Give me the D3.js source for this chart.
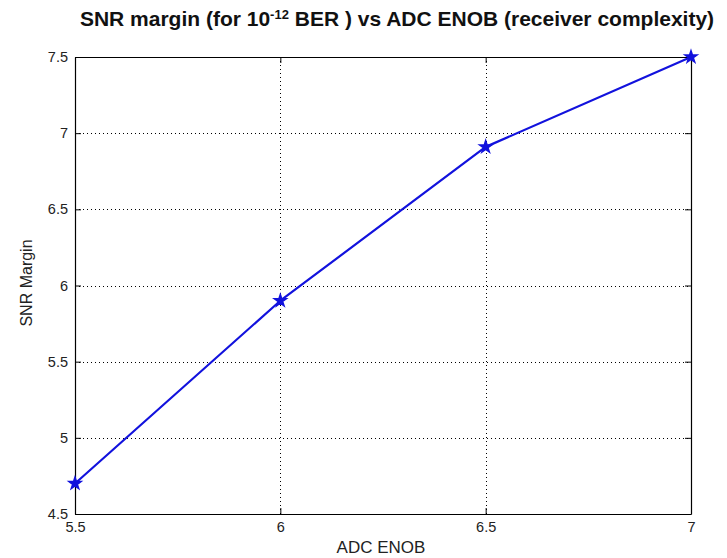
<!DOCTYPE html>
<html>
<head>
<meta charset="utf-8">
<script src="https://cdn.jsdelivr.net/npm/d3@7"></script>
<style>
  html, body { margin: 0; padding: 0; background: #fff; }
  svg { display: block; font-family: "Liberation Sans", Arial, sans-serif; }
</style>
</head>
<body>
<svg id="chart" width="727" height="558"></svg>
<script>
// ADC effective number of bits vs SNR margin at 1e-12 BER
const enob = [5.5, 6, 6.5, 7];
const snrMargin = [4.7, 5.9, 6.91, 7.5];
const xTicks = [5.5, 6, 6.5, 7];
const yTicks = [4.5, 5, 5.5, 6, 6.5, 7, 7.5];
const xTickLabels = ["5.5", "6", "6.5", "7"];
const yTickLabels = ["4.5", "5", "5.5", "6", "6.5", "7", "7.5"];

const svg = d3.select("#chart");
const margin = { left: 75, right: 36, top: 57, bottom: 44 };
const W = 727, H = 558;
const x0 = margin.left, x1 = W - margin.right;
const y0 = H - margin.bottom, y1 = margin.top;

const x = d3.scaleLinear().domain([5.5, 7]).range([x0, x1]);
const y = d3.scaleLinear().domain([4.5, 7.5]).range([y0, y1]);

// dotted grid
const grid = svg.append("g").attr("stroke", "#000").attr("stroke-width", 1)
  .attr("stroke-dasharray", "1,3");
grid.selectAll(".gx").data(xTicks.slice(1, -1)).join("line")
  .attr("x1", d => Math.round(x(d)) + 0.5).attr("x2", d => Math.round(x(d)) + 0.5)
  .attr("y1", y1).attr("y2", y0);
grid.selectAll(".gy").data(yTicks.slice(1, -1)).join("line")
  .attr("y1", d => Math.round(y(d)) + 0.5).attr("y2", d => Math.round(y(d)) + 0.5)
  .attr("x1", x0).attr("x2", x1);

// axes with inward ticks on all sides
const tickLen = 6;
const axB = d3.axisBottom(x).tickValues(xTicks).tickSizeInner(-tickLen).tickSizeOuter(0)
  .tickPadding(8).tickFormat((d, i) => xTickLabels[i]);
const axT = d3.axisTop(x).tickValues(xTicks).tickSizeInner(-tickLen).tickSizeOuter(0).tickFormat("");
const axL = d3.axisLeft(y).tickValues(yTicks).tickSizeInner(-tickLen).tickSizeOuter(0)
  .tickPadding(7).tickFormat((d, i) => yTickLabels[i]);
const axR = d3.axisRight(y).tickValues(yTicks).tickSizeInner(-tickLen).tickSizeOuter(0).tickFormat("");

function style(g) {
  g.selectAll("path").attr("stroke", "#000").attr("stroke-width", 1.2);
  g.selectAll("line").attr("stroke", "#000");
  g.selectAll("text").attr("fill", "#222").style("font-size", "14.5px")
    .style("font-family", "'Liberation Sans', Arial, sans-serif");
}
svg.append("g").attr("transform", `translate(0,${y0})`).call(axB).call(style);
svg.append("g").attr("transform", `translate(0,${y1})`).call(axT).call(style);
svg.append("g").attr("transform", `translate(${x0},0)`).call(axL).call(style);
svg.append("g").attr("transform", `translate(${x1},0)`).call(axR).call(style);

// data line
const pts = enob.map((e, i) => [e, snrMargin[i]]);
svg.append("path").datum(pts)
  .attr("fill", "none").attr("stroke", "#1212dd").attr("stroke-width", 2.2)
  .attr("stroke-linejoin", "round")
  .attr("d", d3.line().x(d => x(d[0])).y(d => y(d[1])));

// star markers
svg.append("g").selectAll("path").data(pts).join("path")
  .attr("transform", d => `translate(${x(d[0])},${y(d[1])})`)
  .attr("d", d3.symbol().type(d3.symbolStar).size(45))
  .attr("fill", "#1212dd").attr("stroke", "#1212dd").attr("stroke-width", 1.5);

// title
const title = svg.append("text").attr("x", 397).attr("y", 26)
  .attr("text-anchor", "middle").style("font-size", "21px").style("font-weight", "bold")
  .attr("fill", "#111");
title.append("tspan").text("SNR margin (for 10");
title.append("tspan").text("-12").attr("dy", -7).style("font-size", "13px");
title.append("tspan").text(" BER ) vs ADC ENOB (receiver complexity)").attr("dy", 7);

// axis labels
svg.append("text").attr("x", 381).attr("y", 553)
  .attr("text-anchor", "middle").style("font-size", "17px").attr("fill", "#222")
  .text("ADC ENOB");
svg.append("text").attr("transform", `translate(32,283) rotate(-90)`)
  .attr("text-anchor", "middle").style("font-size", "16px").attr("fill", "#222")
  .text("SNR Margin");
</script>
</body>
</html>
